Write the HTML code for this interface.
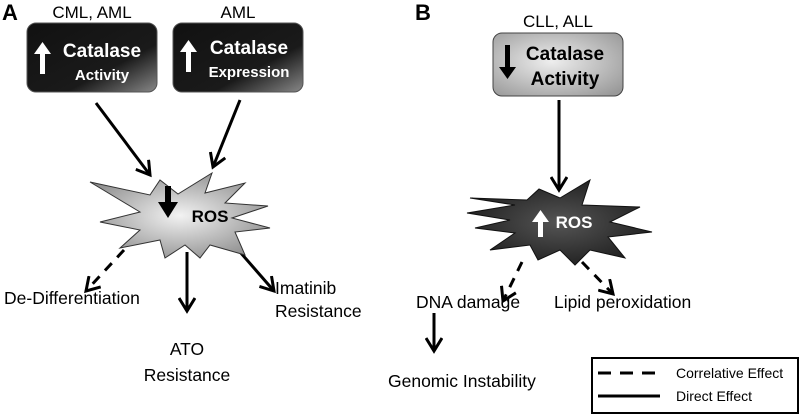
<!DOCTYPE html><html><head><style>body{margin:0;background:#fff}svg{display:block}text{font-family:"Liberation Sans",sans-serif}</style></head><body>
<svg width="800" height="416" viewBox="0 0 800 416" xmlns="http://www.w3.org/2000/svg">
<defs>
<linearGradient id="dk" x1="0" y1="0" x2="1" y2="1"><stop offset="0" stop-color="#111"/><stop offset="0.65" stop-color="#1a1a1a"/><stop offset="1" stop-color="#888"/></linearGradient>
<radialGradient id="lg" cx="0.45" cy="0.45" r="0.7"><stop offset="0" stop-color="#eee"/><stop offset="1" stop-color="#999"/></radialGradient>
<radialGradient id="sa" cx="0.5" cy="0.5" r="0.6"><stop offset="0" stop-color="#f2f2f2"/><stop offset="1" stop-color="#8a8a8a"/></radialGradient>
<radialGradient id="sb" cx="0.5" cy="0.5" r="0.6"><stop offset="0" stop-color="#555"/><stop offset="1" stop-color="#1a1a1a"/></radialGradient>
<marker id="ah" markerWidth="18" markerHeight="18" refX="15" refY="9" orient="auto" markerUnits="userSpaceOnUse" viewBox="0 0 18 18"><path d="M2,1 L15,9 L2,17" fill="none" stroke="#000" stroke-width="3"/></marker>
</defs>
<text x="2" y="20" font-size="22" font-weight="bold">A</text>
<text x="415" y="20" font-size="22" font-weight="bold">B</text>
<text x="92" y="18" font-size="17" text-anchor="middle">CML, AML</text>
<text x="238" y="18" font-size="17" text-anchor="middle">AML</text>
<text x="558" y="27" font-size="17" text-anchor="middle">CLL, ALL</text>
<rect x="27" y="23" width="130" height="69" rx="9" fill="url(#dk)" stroke="#555"/>
<rect x="173" y="23" width="130" height="69" rx="9" fill="url(#dk)" stroke="#555"/>
<rect x="493" y="33" width="130" height="63" rx="9" fill="url(#lg)" stroke="#444"/>
<g fill="#fff"><path d="M40,74 h5 v-20 h6 l-8.5,-12 l-8.5,12 h6z"/><path d="M186,72 h5 v-20 h6 l-8.5,-12 l-8.5,12 h6z"/></g>
<path d="M505,45 h5 v22 h6 l-8.5,12 l-8.5,-12 h6z" fill="#000"/>
<g fill="#fff" font-weight="bold" text-anchor="middle"><text x="102" y="57" font-size="19">Catalase</text><text x="102" y="80" font-size="15">Activity</text><text x="249" y="54" font-size="19">Catalase</text><text x="249" y="77" font-size="15">Expression</text></g>
<g fill="#000" font-weight="bold" text-anchor="middle" font-size="19"><text x="565" y="60">Catalase</text><text x="565" y="85">Activity</text></g>
<g stroke="#000" stroke-width="3" fill="none">
<line x1="96" y1="103" x2="150" y2="175" marker-end="url(#ah)"/>
<line x1="240" y1="100" x2="213" y2="167" marker-end="url(#ah)"/>
<line x1="559" y1="100" x2="559" y2="190" marker-end="url(#ah)"/>
<line x1="187" y1="252" x2="187" y2="311" marker-end="url(#ah)"/>
<line x1="240" y1="252" x2="274" y2="291" marker-end="url(#ah)"/>
<line x1="434" y1="313" x2="434" y2="351" marker-end="url(#ah)"/>
<g stroke-dasharray="10,8"><line x1="124" y1="250" x2="86" y2="291" marker-end="url(#ah)"/><line x1="522" y1="262" x2="503" y2="301" marker-end="url(#ah)"/><line x1="582" y1="262" x2="613" y2="294" marker-end="url(#ah)"/></g>
</g>
<polygon points="90,182 150,195 160,180 178,194 212,173 205,193 245,183 225,203 268,206 232,218 270,228 235,232 245,255 210,245 200,258 185,245 165,258 160,240 120,248 140,230 100,222 140,212" fill="url(#sa)" stroke="#333"/>
<path d="M158,202 h7 v-16 h6 v16 h7 l-10,16z" fill="#000"/>
<text x="210" y="222" font-size="17" font-weight="bold" text-anchor="middle">ROS</text>
<polygon points="467,213 515,205 470,198 527,200 539,189 560,198 590,180 582,205 640,207 610,222 652,232 608,237 625,258 590,250 575,265 560,250 538,260 530,245 490,250 515,233 475,228 510,220" fill="url(#sb)" stroke="#111"/>
<path d="M538,237 h5 v-15 h6 l-8.5,-12 l-8.5,12 h6z" fill="#fff"/>
<text x="574" y="228" font-size="17" font-weight="bold" fill="#fff" text-anchor="middle">ROS</text>
<g font-size="17.5"><text x="4" y="304">De-Differentiation</text><text x="187" y="355" text-anchor="middle">ATO</text><text x="187" y="381" text-anchor="middle">Resistance</text><text x="275" y="294">Imatinib</text><text x="275" y="317">Resistance</text><text x="416" y="308">DNA damage</text><text x="554" y="308">Lipid peroxidation</text><text x="388" y="387">Genomic Instability</text></g>
<rect x="592" y="358" width="206" height="55" fill="#fff" stroke="#000" stroke-width="2"/>
<line x1="598" y1="373" x2="660" y2="373" stroke="#000" stroke-width="3" stroke-dasharray="13,9"/>
<line x1="598" y1="396" x2="660" y2="396" stroke="#000" stroke-width="3"/>
<g font-size="14"><text x="676" y="378">Correlative Effect</text><text x="676" y="401">Direct Effect</text></g>
</svg></body></html>
